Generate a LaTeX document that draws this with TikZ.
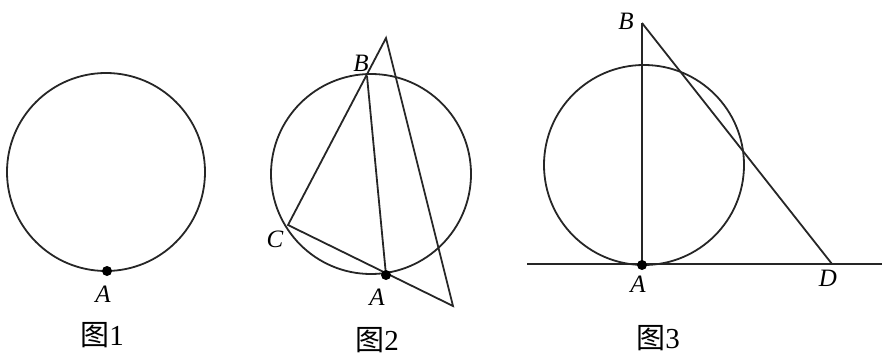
\documentclass[tikz,border=0pt]{standalone}
\usepackage{fontspec}
\setmainfont{Liberation Serif}
\newfontfamily\cjk{Noto Sans CJK SC}
\begin{document}
\begin{tikzpicture}[x=1pt,y=-1pt,
  geo/.style={line width=1.8pt,black!85},
  dotpt/.style={circle,fill=black,inner sep=0pt,minimum size=10pt},
  lbl/.style={font=\fontsize{25}{25}\selectfont\itshape,inner sep=0pt},
  figcap/.style={font=\fontsize{29}{29}\selectfont,inner sep=0pt}]
\useasboundingbox (0,0) rectangle (882,358);
% Figure 1
\coordinate (O1) at (106,172);
\draw[geo] (O1) circle[radius=99];
\node[dotpt] (A1) at (107,271) {};
\node[lbl] (lA1) at (103,294) {A};
\node[figcap] (c1) at (102,335) {{\cjk 图}1};
% Figure 2
\coordinate (O2) at (371,174);
\draw[geo] (O2) circle[radius=100];
\coordinate (T2) at (386,38);
\coordinate (C2) at (288,225);
\coordinate (E2) at (453,306);
\coordinate (B2) at (367,76);
\coordinate (A2pos) at (386,275);
\draw[geo] (T2) -- (C2) -- (E2) -- cycle;
\draw[geo] (B2) -- (A2pos);
\node[dotpt] (A2) at (A2pos) {};
\node[lbl] (lB2) at (361,63) {B};
\node[lbl] (lC2) at (275,239) {C};
\node[lbl] (lA2) at (377,297) {A};
\node[figcap] (c2) at (377,340) {{\cjk 图}2};
% Figure 3
\coordinate (O3) at (644,165);
\draw[geo] (O3) circle[radius=100];
\coordinate (B3) at (642,23);
\coordinate (D3) at (832,264);
\coordinate (L3) at (527,264);
\coordinate (R3) at (882,264);
\coordinate (A3pos) at (642,265);
\draw[geo] (L3) -- (R3);
\draw[geo] (B3) -- (A3pos);
\draw[geo] (B3) -- (D3);
\node[dotpt] (A3) at (A3pos) {};
\node[lbl] (lB3) at (626,21) {B};
\node[lbl] (lA3) at (638,284) {A};
\node[lbl] (lD3) at (828,278) {D};
\node[figcap] (c3) at (658,338) {{\cjk 图}3};
\end{tikzpicture}
\end{document}
